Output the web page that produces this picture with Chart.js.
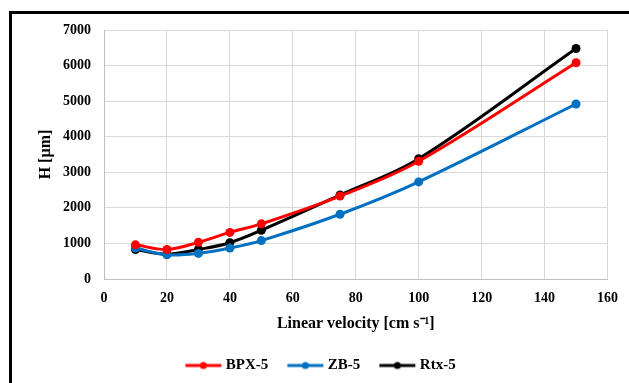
<!DOCTYPE html>
<html>
<head>
<meta charset="utf-8">
<script src="https://cdn.jsdelivr.net/npm/chart.js@4"></script>
<style>
  html, body { margin: 0; padding: 0; background: #fff; overflow: hidden; }
  #frame { position: absolute; left: 9px; top: 11px; width: 700px; height: 500px; border: 3px solid #000; box-sizing: border-box; }
  #wrap { position: absolute; left: 0; top: 0; width: 629px; height: 383px; }
</style>
</head>
<body>
<div id="frame"></div>
<div id="wrap"><canvas id="chart" width="629" height="383"></canvas></div>
<script>
const velocity = [10, 20, 30, 40, 50, 75, 100, 150];
const bpx5 = [960, 830, 1030, 1310, 1550, 2330, 3310, 6080];
const zb5 = [870, 680, 720, 870, 1080, 1820, 2730, 4920];
const rtx5 = [830, 700, 830, 1020, 1370, 2360, 3380, 6480];
const seriesNames = ['BPX-5', 'ZB-5', 'Rtx-5'];
const seriesColors = ['#ff0000', '#0070c0', '#000000'];

const serif = "'Liberation Serif', 'Times New Roman', serif";

function legendIcon(color) {
    const c = document.createElement('canvas');
    c.width = 46;
    c.height = 12;
    const g = c.getContext('2d');
    g.strokeStyle = color;
    g.lineWidth = 3;
    g.beginPath();
    g.moveTo(9, 6);
    g.lineTo(45, 6);
    g.stroke();
    g.fillStyle = color;
    g.beginPath();
    g.arc(27, 6, 3.5, 0, Math.PI * 2);
    g.fill();
    return c;
}

function toPoints(ys) {
    return velocity.map((x, i) => ({ x: x, y: ys[i] }));
}

const allSeries = [bpx5, zb5, rtx5];
const datasets = allSeries.map((ys, i) => ({
    label: seriesNames[i],
    data: toPoints(ys),
    borderColor: seriesColors[i],
    backgroundColor: seriesColors[i],
    borderWidth: 3,
    pointRadius: 4.5,
    pointBorderWidth: 0,
    pointHoverRadius: 4.5,
    tension: 0.35
}));

const ctx = document.getElementById('chart').getContext('2d');
const chart = new Chart(ctx, {
    type: 'line',
    data: { datasets: datasets },
    options: {
        responsive: false,
        animation: false,
        layout: { padding: { left: 28, right: 21, top: 30, bottom: 0 } },
        plugins: {
            tooltip: { enabled: false },
            legend: {
                position: 'bottom',
                labels: {
                    usePointStyle: true,
                    pointStyleWidth: 38,
                    padding: 14,
                    color: '#000',
                    font: { family: serif, size: 15, weight: 'bold' },
                    generateLabels: (ch) => ch.data.datasets.map((ds, i) => ({
                        text: ds.label,
                        pointStyle: legendIcon(seriesColors[i]),
                        fillStyle: seriesColors[i],
                        strokeStyle: seriesColors[i],
                        lineWidth: 0,
                        fontColor: '#000',
                        datasetIndex: i,
                        hidden: false
                    }))
                }
            }
        },
        scales: {
            x: {
                type: 'linear',
                min: 0,
                max: 160,
                afterFit: (s) => { s.height = 65; },
                ticks: { stepSize: 20, padding: 11, color: '#000', font: { family: serif, size: 14, weight: 'bold' } },
                grid: { color: '#d9d9d9', lineWidth: 1, drawTicks: false },
                border: { color: '#bfbfbf' },
                title: {
                    display: true,
                    text: 'Linear velocity [cm s\u207B\u00B9]',
                    color: '#000',
                    padding: { top: 4, bottom: 11 },
                    font: { family: serif, size: 16, weight: 'bold' }
                }
            },
            y: {
                min: 0,
                max: 7000,
                afterFit: (s) => { s.width = 76; },
                ticks: {
                    stepSize: 1000,
                    padding: 13,
                    color: '#000',
                    font: { family: serif, size: 14, weight: 'bold' },
                    callback: (v) => String(v)
                },
                grid: { color: '#d9d9d9', lineWidth: 1, drawTicks: false },
                border: { color: '#bfbfbf' },
                title: {
                    display: true,
                    text: 'H [\u00B5m]',
                    color: '#000',
                    padding: { top: 8 },
                    font: { family: serif, size: 16, weight: 'bold' }
                }
            }
        }
    }
});
</script>
</body>
</html>
